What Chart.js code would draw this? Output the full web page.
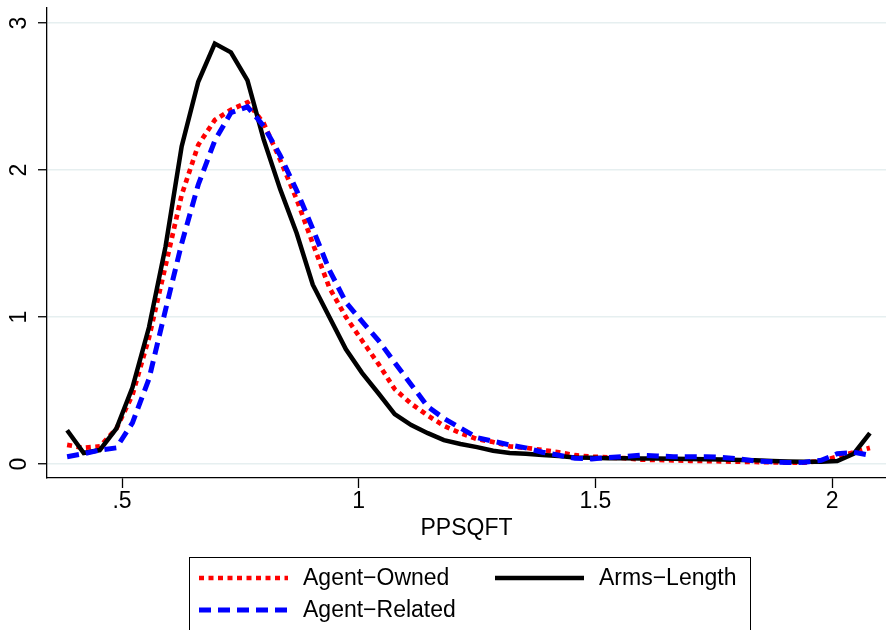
<!DOCTYPE html>
<html>
<head>
<meta charset="utf-8">
<script src="https://cdn.jsdelivr.net/npm/chart.js@4.4.1/dist/chart.umd.min.js"></script>
<style>
  html, body { margin: 0; padding: 0; background: #fff; }
</style>
</head>
<body>
<canvas id="chart" width="886" height="630"></canvas>
<script>
// kdensity evaluation grid (50 points)
const ppsqft = [
  0.384, 0.419, 0.453, 0.488, 0.522, 0.557, 0.592, 0.626, 0.661, 0.696,
  0.730, 0.765, 0.799, 0.834, 0.869, 0.903, 0.938, 0.973, 1.007, 1.042,
  1.076, 1.111, 1.146, 1.180, 1.215, 1.250, 1.284, 1.319, 1.353, 1.388,
  1.423, 1.457, 1.492, 1.527, 1.561, 1.596, 1.630, 1.665, 1.700, 1.734,
  1.769, 1.804, 1.838, 1.873, 1.907, 1.942, 1.977, 2.011, 2.046, 2.080
];

const agentOwned = [
  0.13, 0.11, 0.12, 0.24, 0.47, 0.86, 1.35, 1.83, 2.17, 2.34,
  2.41, 2.46, 2.32, 2.07, 1.80, 1.50, 1.20, 1.00, 0.84, 0.68,
  0.51, 0.41, 0.33, 0.26, 0.21, 0.17, 0.15, 0.12, 0.11, 0.095,
  0.08, 0.06, 0.05, 0.045, 0.04, 0.03, 0.028, 0.025, 0.022, 0.02,
  0.018, 0.016, 0.014, 0.012, 0.01, 0.01, 0.02, 0.05, 0.08, 0.11
];

const armsLength = [
  0.23, 0.075, 0.095, 0.24, 0.52, 0.93, 1.48, 2.16, 2.60, 2.86,
  2.80, 2.61, 2.21, 1.87, 1.57, 1.22, 1.00, 0.78, 0.62, 0.48,
  0.34, 0.265, 0.21, 0.163, 0.136, 0.115, 0.09, 0.075, 0.07, 0.062,
  0.055, 0.045, 0.042, 0.04, 0.04, 0.038, 0.037, 0.036, 0.035, 0.033,
  0.03, 0.028, 0.025, 0.02, 0.017, 0.015, 0.015, 0.02, 0.07, 0.21
];

const agentRelated = [
  0.05, 0.07, 0.095, 0.11, 0.28, 0.58, 1.05, 1.50, 1.90, 2.20,
  2.39, 2.43, 2.30, 2.10, 1.86, 1.60, 1.32, 1.10, 0.97, 0.84,
  0.69, 0.54, 0.39, 0.31, 0.245, 0.18, 0.155, 0.13, 0.11, 0.08,
  0.06, 0.04, 0.035, 0.045, 0.05, 0.06, 0.055, 0.05, 0.05, 0.05,
  0.045, 0.035, 0.02, 0.015, 0.01, 0.012, 0.025, 0.07, 0.08, 0.06
];

const xTicks = [0.5, 1, 1.5, 2];
const xTickText = ['.5', '1', '1.5', '2'];
const yTicks = [0, 1, 2, 3];
const yTickText = ['0', '1', '2', '3'];

const FONT = '"Liberation Sans", Arial, Helvetica, sans-serif';
Chart.defaults.font.family = FONT;
Chart.defaults.color = '#000';

function pairs(ys) {
  return ppsqft.map((x, i) => ({ x: x, y: ys[i] }));
}

// Stata-style boxed legend below the axis title
const legendBox = {
  id: 'legendBox',
  afterDraw(chart) {
    const ctx = chart.ctx;
    ctx.save();
    ctx.strokeStyle = '#000';
    ctx.lineWidth = 1;
    ctx.strokeRect(189.5, 557.5, 561, 120);
    const slots = [[199, 578], [495, 578], [199, 610]];
    chart.data.datasets.forEach((ds, i) => {
      const [x, y] = slots[i];
      ctx.beginPath();
      ctx.setLineDash(ds.borderDash || []);
      ctx.lineWidth = ds.borderWidth;
      ctx.strokeStyle = ds.borderColor;
      ctx.moveTo(x, y);
      ctx.lineTo(x + 89, y);
      ctx.stroke();
      ctx.setLineDash([]);
      ctx.fillStyle = '#000';
      ctx.font = '23px ' + FONT;
      ctx.textBaseline = 'middle';
      ctx.fillText(ds.label, x + 104, y + 1);
    });
    ctx.restore();
  }
};

new Chart(document.getElementById('chart'), {
  type: 'line',
  data: {
    datasets: [
      {
        label: 'Agent\u2212Owned',
        data: pairs(agentOwned),
        borderColor: '#ff0000',
        borderWidth: 4.7,
        borderDash: [5, 4.5],
        order: 3,
      },
      {
        label: 'Arms\u2212Length',
        data: pairs(armsLength),
        borderColor: '#000000',
        borderWidth: 4.5,
        order: 2,
      },
      {
        label: 'Agent\u2212Related',
        data: pairs(agentRelated),
        borderColor: '#0000ff',
        borderWidth: 5,
        borderDash: [12, 7],
        order: 1,
      },
    ],
  },
  options: {
    responsive: false,
    animation: false,
    devicePixelRatio: 1,
    elements: {
      point: { radius: 0 },
      line: { tension: 0, borderCapStyle: 'butt', fill: false },
    },
    layout: { padding: { top: 8, right: 0, bottom: 89.5, left: 0 } },
    plugins: {
      legend: { display: false },
      tooltip: { enabled: false },
    },
    scales: {
      x: {
        type: 'linear',
        min: 0.3415,
        max: 2.114,
        afterBuildTicks: (s) => { s.ticks = xTicks.map(v => ({ value: v })); },
        ticks: {
          callback: (v) => xTickText[xTicks.indexOf(v)],
          font: { size: 23, lineHeight: 1 },
          color: '#000',
          padding: 2,
          maxRotation: 0,
          autoSkip: false,
        },
        grid: {
          drawOnChartArea: false,
          drawTicks: true,
          tickLength: 10,
          tickColor: '#000',
          tickWidth: 1.3,
        },
        border: { display: true, color: '#000', width: 1.3 },
        title: {
          display: true,
          text: 'PPSQFT',
          color: '#000',
          font: { size: 23, lineHeight: 1 },
          padding: { top: 2.5, bottom: 0 },
        },
      },
      y: {
        type: 'linear',
        min: -0.095,
        max: 3.102,
        afterBuildTicks: (s) => { s.ticks = yTicks.map(v => ({ value: v })); },
        afterFit: (s) => {
          s.width = 47;
          s.paddingTop = 0;
          s.paddingBottom = 0;
        },
        ticks: {
          callback: (v) => yTickText[yTicks.indexOf(v)],
          minRotation: 90,
          maxRotation: 90,
          crossAlign: 'center',
          padding: 12,
          font: { size: 23, lineHeight: 1 },
          color: '#000',
        },
        grid: {
          color: '#e6eff0',
          lineWidth: 1.5,
          tickLength: 9,
          tickColor: '#000',
          tickWidth: 1.3,
        },
        border: { display: true, color: '#000', width: 1.3 },
      },
    },
  },
  plugins: [legendBox],
});
</script>
</body>
</html>
